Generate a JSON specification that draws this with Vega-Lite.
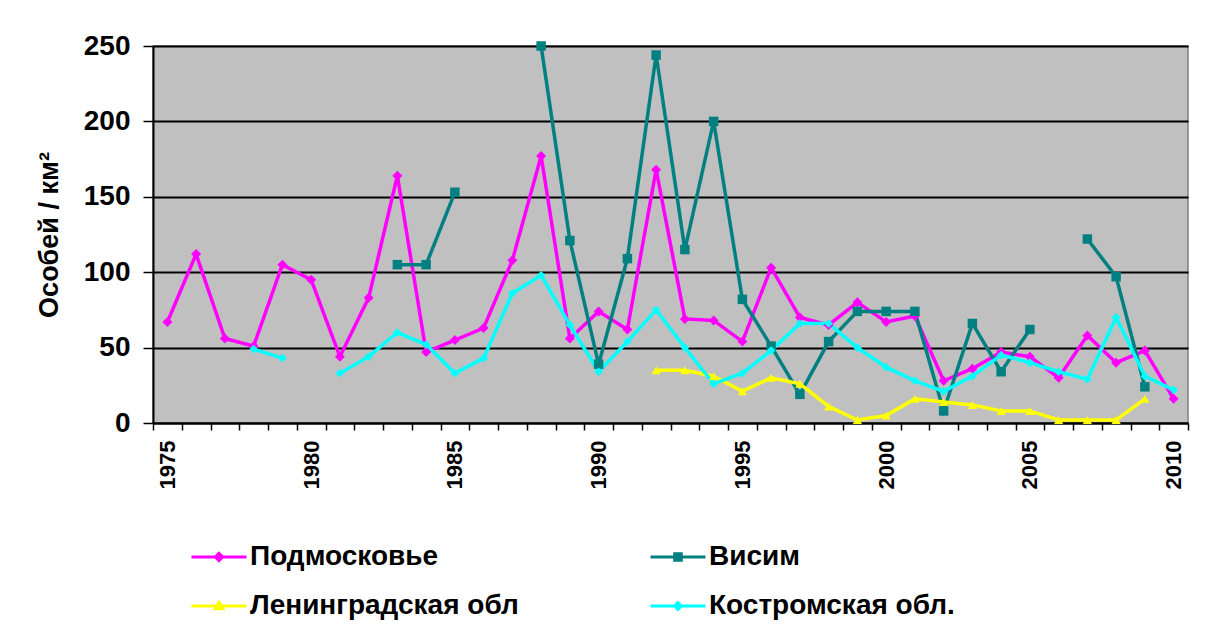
{
  "$schema": "https://vega.github.io/schema/vega-lite/v6.json",
  "width": 1035,
  "height": 377,
  "autosize": {"type": "none"},
  "padding": {"left": 153, "top": 46, "right": 17, "bottom": 204},
  "background": "white",
  "config": {
    "view": {"fill": "#C0C0C0", "stroke": "#808080", "strokeWidth": 1.5},
    "font": "Liberation Sans",
    "axis": {"labelFont": "Liberation Sans", "labelFontWeight": "bold", "labelColor": "black", "titleColor": "black", "domainColor": "black", "tickColor": "black", "titleFont": "Liberation Sans"}
  },
  "datasets": {"d": [
    {"series": "Подмосковье", "year": 1975, "value": 67},
    {"series": "Подмосковье", "year": 1976, "value": 112},
    {"series": "Подмосковье", "year": 1977, "value": 56},
    {"series": "Подмосковье", "year": 1978, "value": 51},
    {"series": "Подмосковье", "year": 1979, "value": 105},
    {"series": "Подмосковье", "year": 1980, "value": 95},
    {"series": "Подмосковье", "year": 1981, "value": 44},
    {"series": "Подмосковье", "year": 1982, "value": 83},
    {"series": "Подмосковье", "year": 1983, "value": 164},
    {"series": "Подмосковье", "year": 1984, "value": 47},
    {"series": "Подмосковье", "year": 1985, "value": 55},
    {"series": "Подмосковье", "year": 1986, "value": 63},
    {"series": "Подмосковье", "year": 1987, "value": 108},
    {"series": "Подмосковье", "year": 1988, "value": 177},
    {"series": "Подмосковье", "year": 1989, "value": 56},
    {"series": "Подмосковье", "year": 1990, "value": 74},
    {"series": "Подмосковье", "year": 1991, "value": 62},
    {"series": "Подмосковье", "year": 1992, "value": 168},
    {"series": "Подмосковье", "year": 1993, "value": 69},
    {"series": "Подмосковье", "year": 1994, "value": 68},
    {"series": "Подмосковье", "year": 1995, "value": 54},
    {"series": "Подмосковье", "year": 1996, "value": 103},
    {"series": "Подмосковье", "year": 1997, "value": 70},
    {"series": "Подмосковье", "year": 1998, "value": 65},
    {"series": "Подмосковье", "year": 1999, "value": 80},
    {"series": "Подмосковье", "year": 2000, "value": 67},
    {"series": "Подмосковье", "year": 2001, "value": 71},
    {"series": "Подмосковье", "year": 2002, "value": 28},
    {"series": "Подмосковье", "year": 2003, "value": 36},
    {"series": "Подмосковье", "year": 2004, "value": 47},
    {"series": "Подмосковье", "year": 2005, "value": 44},
    {"series": "Подмосковье", "year": 2006, "value": 30},
    {"series": "Подмосковье", "year": 2007, "value": 58},
    {"series": "Подмосковье", "year": 2008, "value": 40},
    {"series": "Подмосковье", "year": 2009, "value": 48},
    {"series": "Подмосковье", "year": 2010, "value": 16},
    {"series": "Висим", "year": 1983, "value": 105},
    {"series": "Висим", "year": 1984, "value": 105},
    {"series": "Висим", "year": 1985, "value": 153},
    {"series": "Висим", "year": 1986, "value": null},
    {"series": "Висим", "year": 1987, "value": null},
    {"series": "Висим", "year": 1988, "value": 250},
    {"series": "Висим", "year": 1989, "value": 121},
    {"series": "Висим", "year": 1990, "value": 39},
    {"series": "Висим", "year": 1991, "value": 109},
    {"series": "Висим", "year": 1992, "value": 244},
    {"series": "Висим", "year": 1993, "value": 115},
    {"series": "Висим", "year": 1994, "value": 200},
    {"series": "Висим", "year": 1995, "value": 82},
    {"series": "Висим", "year": 1996, "value": 51},
    {"series": "Висим", "year": 1997, "value": 19},
    {"series": "Висим", "year": 1998, "value": 54},
    {"series": "Висим", "year": 1999, "value": 74},
    {"series": "Висим", "year": 2000, "value": 74},
    {"series": "Висим", "year": 2001, "value": 74},
    {"series": "Висим", "year": 2002, "value": 8},
    {"series": "Висим", "year": 2003, "value": 66},
    {"series": "Висим", "year": 2004, "value": 34},
    {"series": "Висим", "year": 2005, "value": 62},
    {"series": "Висим", "year": 2006, "value": null},
    {"series": "Висим", "year": 2007, "value": 122},
    {"series": "Висим", "year": 2008, "value": 97},
    {"series": "Висим", "year": 2009, "value": 24},
    {"series": "Ленинградская обл", "year": 1992, "value": 35},
    {"series": "Ленинградская обл", "year": 1993, "value": 35},
    {"series": "Ленинградская обл", "year": 1994, "value": 31},
    {"series": "Ленинградская обл", "year": 1995, "value": 21},
    {"series": "Ленинградская обл", "year": 1996, "value": 30},
    {"series": "Ленинградская обл", "year": 1997, "value": 26},
    {"series": "Ленинградская обл", "year": 1998, "value": 11},
    {"series": "Ленинградская обл", "year": 1999, "value": 2},
    {"series": "Ленинградская обл", "year": 2000, "value": 5},
    {"series": "Ленинградская обл", "year": 2001, "value": 16},
    {"series": "Ленинградская обл", "year": 2002, "value": 14},
    {"series": "Ленинградская обл", "year": 2003, "value": 12},
    {"series": "Ленинградская обл", "year": 2004, "value": 8},
    {"series": "Ленинградская обл", "year": 2005, "value": 8},
    {"series": "Ленинградская обл", "year": 2006, "value": 2},
    {"series": "Ленинградская обл", "year": 2007, "value": 2},
    {"series": "Ленинградская обл", "year": 2008, "value": 2},
    {"series": "Ленинградская обл", "year": 2009, "value": 16},
    {"series": "Костромская обл.", "year": 1978, "value": 49},
    {"series": "Костромская обл.", "year": 1979, "value": 43},
    {"series": "Костромская обл.", "year": 1980, "value": null},
    {"series": "Костромская обл.", "year": 1981, "value": 33},
    {"series": "Костромская обл.", "year": 1982, "value": 44},
    {"series": "Костромская обл.", "year": 1983, "value": 60},
    {"series": "Костромская обл.", "year": 1984, "value": 52},
    {"series": "Костромская обл.", "year": 1985, "value": 33},
    {"series": "Костромская обл.", "year": 1986, "value": 43},
    {"series": "Костромская обл.", "year": 1987, "value": 86},
    {"series": "Костромская обл.", "year": 1988, "value": 98},
    {"series": "Костромская обл.", "year": 1989, "value": 65},
    {"series": "Костромская обл.", "year": 1990, "value": 34},
    {"series": "Костромская обл.", "year": 1991, "value": 54},
    {"series": "Костромская обл.", "year": 1992, "value": 75},
    {"series": "Костромская обл.", "year": 1993, "value": 50},
    {"series": "Костромская обл.", "year": 1994, "value": 26},
    {"series": "Костромская обл.", "year": 1995, "value": 33},
    {"series": "Костромская обл.", "year": 1996, "value": 48},
    {"series": "Костромская обл.", "year": 1997, "value": 66},
    {"series": "Костромская обл.", "year": 1998, "value": 66},
    {"series": "Костромская обл.", "year": 1999, "value": 50},
    {"series": "Костромская обл.", "year": 2000, "value": 37},
    {"series": "Костромская обл.", "year": 2001, "value": 28},
    {"series": "Костромская обл.", "year": 2002, "value": 21},
    {"series": "Костромская обл.", "year": 2003, "value": 31},
    {"series": "Костромская обл.", "year": 2004, "value": 45},
    {"series": "Костромская обл.", "year": 2005, "value": 40},
    {"series": "Костромская обл.", "year": 2006, "value": 34},
    {"series": "Костромская обл.", "year": 2007, "value": 29},
    {"series": "Костромская обл.", "year": 2008, "value": 70},
    {"series": "Костромская обл.", "year": 2009, "value": 31},
    {"series": "Костромская обл.", "year": 2010, "value": 22}
  ]},
  "data": {"name": "d"},
  "encoding": {
    "x": {"field": "year", "type": "quantitative",
      "scale": {"domain": [1974.5, 2010.5], "nice": false, "zero": false}},
    "y": {"field": "value", "type": "quantitative", "scale": {"domain": [0, 250], "nice": false}},
    "color": {"field": "series", "type": "nominal",
      "scale": {"domain": ["Подмосковье", "Висим", "Ленинградская обл", "Костромская обл."],
        "range": ["#FF00FF", "#008080", "#FFFF00", "#00FFFF"]}}
  },
  "layer": [
    {
      "mark": {"type": "line", "strokeWidth": 3.5, "invalid": "break-paths-show-domains"},
      "encoding": {
        "x": {"field": "year", "type": "quantitative",
          "axis": {"orient": "bottom", "values": [1975, 1980, 1985, 1990, 1995, 2000, 2005, 2010], "format": "d",
            "labelAngle": -90, "labelAlign": "right", "labelBaseline": "middle", "ticks": false,
            "labelFontSize": 22, "labelPadding": 17, "grid": false, "title": null,
            "domainWidth": 2, "labelFlush": false, "labelOverlap": false}},
        "y": {"field": "value", "type": "quantitative",
          "axis": {"values": [0, 50, 100, 150, 200, 250], "grid": true, "gridColor": "black", "gridWidth": 2,
            "tickSize": 10, "tickWidth": 1.5, "domainWidth": 2, "labelFontSize": 28, "labelPadding": 13,
            "title": "Особей / км²", "titleFontSize": 27, "titleFontWeight": "bold", "titlePadding": 20}},
        "color": {"field": "series", "type": "nominal",
          "legend": {"orient": "none", "legendX": 37, "legendY": 482, "columns": 2, "direction": "horizontal", "title": null,
            "labelFont": "Liberation Sans", "labelFontSize": 28, "labelFontWeight": "bold", "labelColor": "black",
            "symbolType": "stroke", "symbolSize": 3025, "symbolStrokeWidth": 3, "columnPadding": 125,
            "rowPadding": 6, "labelOffset": 2, "labelLimit": 400,
            "encode": {"symbols": {"update": {
              "shape": {"signal": "datum.value === 'Подмосковье' ? 'M-1,0L1,0M0,-0.13L0.13,0L0,0.13L-0.13,0Z' : datum.value === 'Висим' ? 'M-1,0L1,0M-0.12,-0.12L0.12,-0.12L0.12,0.12L-0.12,0.12Z' : datum.value === 'Ленинградская обл' ? 'M-1,0L1,0M0,-0.14L0.14,0.1L-0.14,0.1Z' : 'M-1,0L1,0M0,-0.12L0.12,0L0,0.12L-0.12,0Z'"},
              "fill": {"scale": "color", "field": "value"},
              "stroke": {"scale": "color", "field": "value"},
              "strokeWidth": {"value": 3},
              "opacity": {"value": 1}
            }}}}}
      }
    },
    {
      "transform": [{"filter": "isValid(datum.value) && datum.series === 'Подмосковье'"}],
      "mark": {"type": "point", "shape": "diamond", "filled": true, "opacity": 1, "size": 100},
      "encoding": {
        "x": {"field": "year", "type": "quantitative",
          "axis": {"orient": "bottom", "values": [1974.5, 1975.5, 1976.5, 1977.5, 1978.5, 1979.5, 1980.5, 1981.5, 1982.5, 1983.5, 1984.5, 1985.5, 1986.5, 1987.5, 1988.5, 1989.5, 1990.5, 1991.5, 1992.5, 1993.5, 1994.5, 1995.5, 1996.5, 1997.5, 1998.5, 1999.5, 2000.5, 2001.5, 2002.5, 2003.5, 2004.5, 2005.5, 2006.5, 2007.5, 2008.5, 2009.5, 2010.5],
            "labels": false, "ticks": true, "tickSize": 7, "tickWidth": 1.5, "domain": false, "grid": false, "title": null}}
      }
    },
    {
      "transform": [{"filter": "isValid(datum.value) && datum.series === 'Висим'"}],
      "mark": {"type": "point", "shape": "square", "filled": true, "opacity": 1, "size": 90},
      "encoding": {"x": {"field": "year", "type": "quantitative", "axis": null}}
    },
    {
      "transform": [{"filter": "isValid(datum.value) && datum.series === 'Ленинградская обл'"}],
      "mark": {"type": "point", "shape": "triangle-up", "filled": true, "opacity": 1, "size": 85},
      "encoding": {"x": {"field": "year", "type": "quantitative", "axis": null}}
    },
    {
      "transform": [{"filter": "isValid(datum.value) && datum.series === 'Костромская обл.'"}],
      "mark": {"type": "point", "shape": "diamond", "filled": true, "opacity": 1, "size": 75},
      "encoding": {"x": {"field": "year", "type": "quantitative", "axis": null}}
    }
  ],
  "resolve": {"axis": {"x": "independent"}}
}
